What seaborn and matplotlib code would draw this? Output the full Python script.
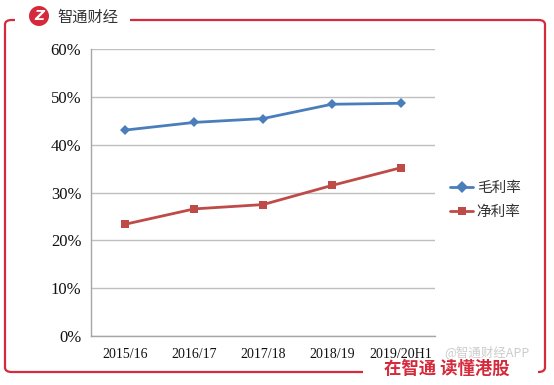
import matplotlib
matplotlib.use("Agg")
import matplotlib.pyplot as plt
import matplotlib.patches as mpatches
from matplotlib.ticker import PercentFormatter, FixedLocator
import pandas as pd
import seaborn as sns

# data
periods = ["2015/16", "2016/17", "2017/18", "2018/19", "2019/20H1"]
gross_margin = [43.1, 44.7, 45.5, 48.5, 48.7]   # 毛利率 (%)
net_margin = [23.4, 26.6, 27.5, 31.5, 35.2]     # 净利率 (%)
series_names = ["毛利率", "净利率"]
y_ticks = [0, 10, 20, 30, 40, 50, 60]

BLUE = "#4a7ebb"
RED = "#be4b48"
FRAME_RED = "#d42a3c"

df = pd.DataFrame({
    "period": periods * 2,
    "value": gross_margin + net_margin,
    "series": [series_names[0]] * len(periods) + [series_names[1]] * len(periods),
})

sns.set_theme(style="white")
plt.rcParams["font.family"] = ["Noto Sans CJK SC", "DejaVu Sans"]

W, H = 554, 385
fig = plt.figure(figsize=(W / 100, H / 100), dpi=100)
ax = fig.add_axes([91 / W, (H - 336) / H, (435 - 91) / W, (336 - 49.3) / H])

sns.lineplot(data=df, x="period", y="value", hue="series", style="series",
             palette={series_names[0]: BLUE, series_names[1]: RED},
             markers={series_names[0]: "D", series_names[1]: "s"},
             dashes=False, markersize=6, markeredgewidth=0, linewidth=2,
             sort=False, ax=ax, legend=True)
ax.lines[0].set_markersize(5.5)

ax.set_xlim(-0.5, len(periods) - 0.5)
ax.set_ylim(0, 60)
ax.yaxis.set_major_locator(FixedLocator(y_ticks))
ax.yaxis.set_major_formatter(PercentFormatter(decimals=0))
ax.grid(axis="y", color="#bfbfbf", linewidth=1)
ax.set_axisbelow(True)
for side in ["top", "right"]:
    ax.spines[side].set_visible(False)
for side in ["left", "bottom"]:
    ax.spines[side].set_color("#a6a6a6")
    ax.spines[side].set_linewidth(1)

serif = "Liberation Serif"
ax.set_xticks(range(len(periods)))
ax.set_xticklabels(periods, fontfamily=serif, fontsize=10, color="#111111")
ax.set_xticks([i - 0.5 for i in range(len(periods) + 1)], minor=True)
ax.tick_params(axis="x", which="major", length=0, pad=9)
ax.tick_params(axis="x", which="minor", length=4, color="#a6a6a6", direction="out")
ax.tick_params(axis="y", length=4, color="#a6a6a6", direction="out", pad=3)
for lab in ax.get_yticklabels():
    lab.set_fontfamily(serif)
    lab.set_fontsize(12)
    lab.set_color("#111111")
ax.set_xlabel("")
ax.set_ylabel("")

handles, labels = ax.get_legend_handles_labels()
ax.legend(handles, labels, loc="center left", bbox_to_anchor=(1.005, 0.475),
          frameon=False, fontsize=10.5, handlelength=1.6, handletextpad=0.25,
          labelspacing=0.7, labelcolor="#333333")

# frame around the chart
frame = mpatches.FancyBboxPatch((5 / W, (H - 372) / H), (545 - 5) / W, (372 - 20) / H,
                                boxstyle="round,pad=0,rounding_size=0.012",
                                transform=fig.transFigure, fill=False,
                                edgecolor=FRAME_RED, linewidth=1.6, zorder=1)
fig.add_artist(frame)
fig.add_artist(mpatches.Rectangle((15 / W, (H - 26) / H), (130 - 15) / W, 12 / H,
                                  transform=fig.transFigure, facecolor="white",
                                  edgecolor="none", zorder=2))
fig.add_artist(mpatches.Rectangle((363 / W, 0), (538 - 363) / W, 20 / H,
                                  transform=fig.transFigure, facecolor="white",
                                  edgecolor="none", zorder=2))

# logo
fig.add_artist(mpatches.Ellipse((39 / W, (H - 16) / H), 20 / W, 20 / H,
                                transform=fig.transFigure, facecolor=FRAME_RED,
                                edgecolor="none", zorder=3))
fig.text(39 / W, (H - 16.5) / H, "Z", color="white", fontsize=10, fontweight="bold",
         fontstyle="italic", family="DejaVu Sans", ha="center", va="center", zorder=4)
fig.text(57 / W, (H - 17) / H, "智通财经", color="#333333", fontsize=11,
         ha="left", va="center", zorder=4)

# footer (watermark sits just above the slogan)
fig.text(384 / W, (H - 369) / H, "在智通 读懂港股", color=FRAME_RED, fontsize=12.5,
         fontweight="bold", ha="left", va="center", zorder=4)
fig.text(444 / W, (H - 352) / H, "@智通财经APP", color="#9a9a9a", fontsize=9,
         alpha=0.5, ha="left", va="center", zorder=5)

fig.savefig("out.png", dpi=100)
